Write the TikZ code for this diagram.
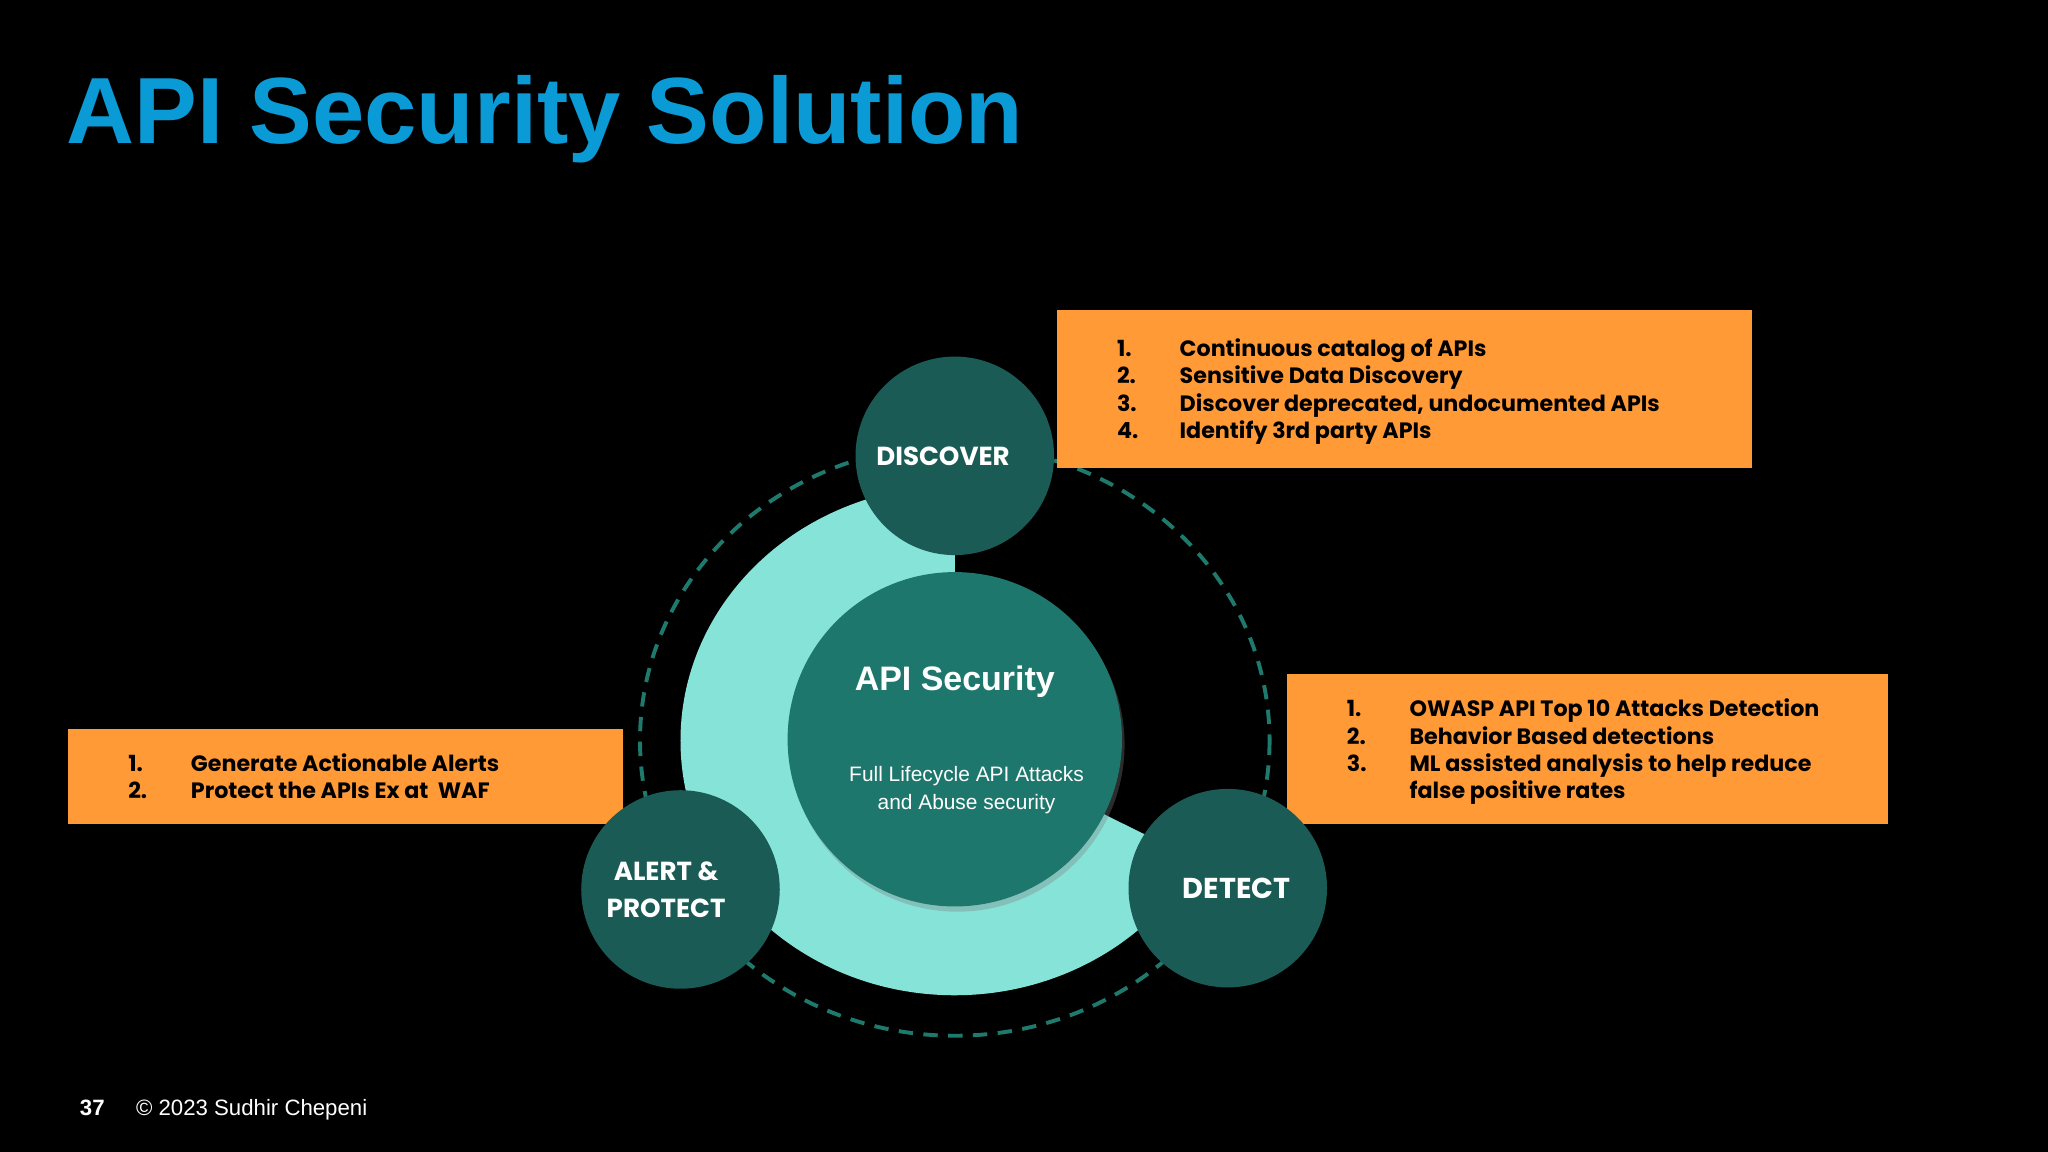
\documentclass[tikz,border=0pt]{standalone}
\usepackage{fontspec}
\setmainfont{Poppins}
\newfontfamily\titlefont{Liberation Sans}
\usetikzlibrary{positioning,shadows}
\definecolor{bgblack}{HTML}{000000}
\definecolor{titleblue}{HTML}{0A9BD6}
\definecolor{boxorange}{HTML}{FF9A36}
\definecolor{darkteal}{HTML}{1A5B55}
\definecolor{midteal}{HTML}{1E776C}
\definecolor{lightteal}{HTML}{86E3D8}
\definecolor{dashteal}{HTML}{1F7A6E}
\tikzset{
  stage/.style={circle, fill=darkteal, minimum size=152pt, inner sep=0pt,
    text=white, font=\fontsize{20}{28}\selectfont\bfseries, align=center},
  listbox/.style={fill=boxorange, anchor=north west, inner sep=0pt,
    font=\fontsize{17}{21}\selectfont\bfseries, text=black},
}
\newcommand{\steplist}[1]{\begin{tabular}{@{}p{48pt}@{}l@{}}#1\end{tabular}}
\begin{document}
\begin{tikzpicture}[x=1pt,y=-1pt]
\fill[bgblack] (0,0) rectangle (1568,882);
\useasboundingbox (0,0) rectangle (1568,882);
% title
\node[anchor=base west, inner sep=0pt, text=titleblue, font=\fontsize{72}{80}\titlefont\bfseries] (title) at (51,110) {API Security Solution};
% ring
\draw[dashteal, line width=3pt, dash pattern=on 11pt off 8pt] (731,567) ellipse [x radius=241, y radius=226];
\fill[lightteal] (731,567) -- ++(90:{210 and -195}) arc[start angle=90, end angle=332, x radius=210, y radius=-195] -- cycle;
% boxes
\node[listbox, minimum width=532pt, minimum height=121pt] (discbox) at (809,237) {};
\node[anchor=west, inner sep=0pt, font=\fontsize{17}{21}\selectfont\bfseries] (disclist) at (855,300)
  {\steplist{1. & Continuous catalog of APIs\\ 2. & Sensitive Data Discovery\\ 3. & Discover deprecated, undocumented APIs\\ 4. & Identify 3rd party APIs}};
\node[listbox, minimum width=460pt, minimum height=115pt] (detbox) at (985,516) {};
\node[anchor=west, inner sep=0pt, font=\fontsize{17}{21}\selectfont\bfseries] (detlist) at (1031,576)
  {\steplist{1. & OWASP API Top 10 Attacks Detection\\ 2. & Behavior Based detections\\ 3. & ML assisted analysis to help reduce\\ & false positive rates}};
\node[listbox, minimum width=425pt, minimum height=73pt] (alertbox) at (52,558) {};
\node[anchor=west, inner sep=0pt, font=\fontsize{17}{21}\selectfont\bfseries] (alertlist) at (98,597)
  {\steplist{1. & Generate Actionable Alerts\\ 2. & Protect the APIs Ex at~~WAF}};
% center
\node[circle, fill=midteal, minimum size=256pt, inner sep=0pt, drop shadow={opacity=0.35, shadow xshift=2pt, shadow yshift=-4pt}] (core) at (731,566) {};
\node[text=white, font=\fontsize{26}{30}\titlefont\bfseries] (coretitle) at (731,522) {API Security};
\node[text=white, align=center, font=\fontsize{16}{21}\titlefont] (coresub) at (740,605) {Full Lifecycle API Attacks\\and Abuse security};
% stages
\node[stage] (discover) at (731,349) {\hspace*{-18pt}DISCOVER};
\node[stage, font=\fontsize{22}{28}\selectfont\bfseries] (detect) at (940,680) {\hspace*{14pt}DETECT};
\node[stage] (alert) at (521,681) {\hspace*{-22pt}ALERT \&\\\hspace*{-22pt}PROTECT};
% footer
\node[anchor=base west, inner sep=0pt, text=white, font=\fontsize{17}{20}\titlefont\bfseries] (pagenum) at (61,854) {37};
\node[anchor=base west, inner sep=0pt, text=white, font=\fontsize{17}{20}\titlefont] (credit) at (104,854) {© 2023 Sudhir Chepeni};
\end{tikzpicture}
\end{document}
